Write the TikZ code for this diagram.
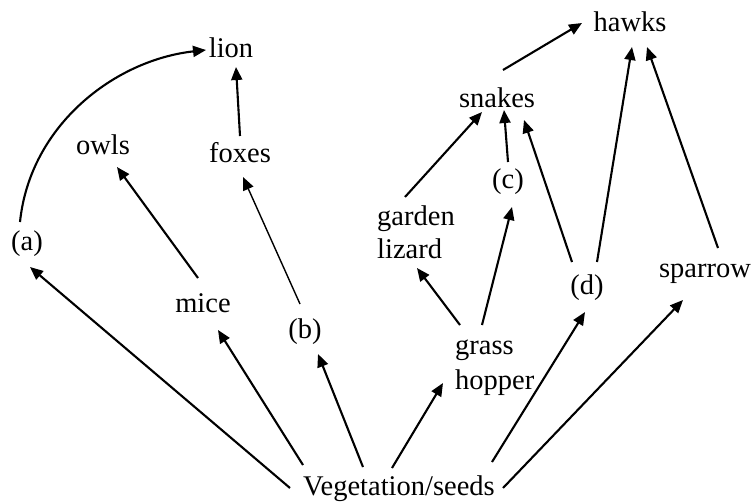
\documentclass[tikz,border=0pt]{standalone}
\usepackage{fontspec}
\setmainfont{Liberation Serif}
\usetikzlibrary{arrows.meta}
\begin{document}
\begin{tikzpicture}[x=1pt,y=-1pt,
  lbl/.style={inner sep=0pt, font=\fontsize{28.5}{33}\selectfont, anchor=base},
  two/.style={inner sep=0pt, align=left, anchor=north west},
  arr/.style={line width=2.1pt, -{Triangle[length=13pt,width=11pt]}}]
\useasboundingbox (0,0) rectangle (754,503);
% nodes
\node[lbl] (lion) at (231,58) {lion};
\node[lbl] (owls) at (103,154) {owls};
\node[lbl] (foxes) at (240,162) {foxes};
\node[lbl] (a) at (27,250) {(a)};
\node[lbl] (mice) at (203,312) {mice};
\node[lbl] (b) at (305,338) {(b)};
\node[lbl] (veg) at (399,495) {Vegetation/seeds};
\node[lbl] (hawks) at (630,32) {hawks};
\node[lbl] (snakes) at (497,107) {snakes};
\node[lbl] (c) at (508,188) {(c)};
\node[lbl] (d) at (587,294) {(d)};
\node[lbl] (sparrow) at (705,277) {sparrow};
\node[two, font=\fontsize{28.5}{33}\selectfont] (lizard) at (377,206) {garden\\lizard};
\node[two, font=\fontsize{28.5}{35}\selectfont] (grass) at (455,340) {grass\\hopper};
% connectors
\draw[arr] ([shift={(-7,-28)}]a.base) .. controls (30,125) and (115,60) .. ([shift={(-25,-8)}]lion.base);
\draw[arr] ([shift={(0,-26)}]foxes.base) -- ([shift={(5,9)}]lion.base);
\draw[arr] ([shift={(-5,-34)}]mice.base) -- ([shift={(14,13)}]owls.base);
\draw[arr, line width=1.4pt] ([shift={(-5,-34)}]b.base) -- ([shift={(3,15)}]foxes.base);
\draw[arr] ([shift={(-109,-7)}]veg.base) -- ([shift={(3,17)}]a.base);
\draw[arr] ([shift={(-96,-30)}]veg.base) -- ([shift={(15,18)}]mice.base);
\draw[arr] ([shift={(-36,-28)}]veg.base) -- ([shift={(13,16)}]b.base);
\draw[arr] ([shift={(-7,-27)}]veg.base) -- ([shift={(-12,43)}]grass.north west);
\draw[arr] ([shift={(93,-33)}]veg.base) -- ([shift={(-2,18)}]d.base);
\draw[arr] ([shift={(104,-7)}]veg.base) -- ([shift={(-22,23)}]sparrow.base);
\draw[arr] ([shift={(5,-15)}]grass.north west) -- ([shift={(40,62)}]lizard.north west);
\draw[arr] ([shift={(27,-15)}]grass.north west) -- ([shift={(4,19)}]c.base);
\draw[arr] ([shift={(28,-9)}]lizard.north west) -- ([shift={(-15,5)}]snakes.base);
\draw[arr] ([shift={(0,-26)}]c.base) -- ([shift={(7,3)}]snakes.base);
\draw[arr] ([shift={(-15,-32)}]d.base) -- ([shift={(27,13)}]snakes.base);
\draw[arr] ([shift={(10,-32)}]d.base) -- ([shift={(2,15)}]hawks.base);
\draw[arr] ([shift={(13,-29)}]sparrow.base) -- ([shift={(17,15)}]hawks.base);
\draw[arr] ([shift={(6,-37)}]snakes.base) -- ([shift={(-48,-9)}]hawks.base);
\end{tikzpicture}
\end{document}
